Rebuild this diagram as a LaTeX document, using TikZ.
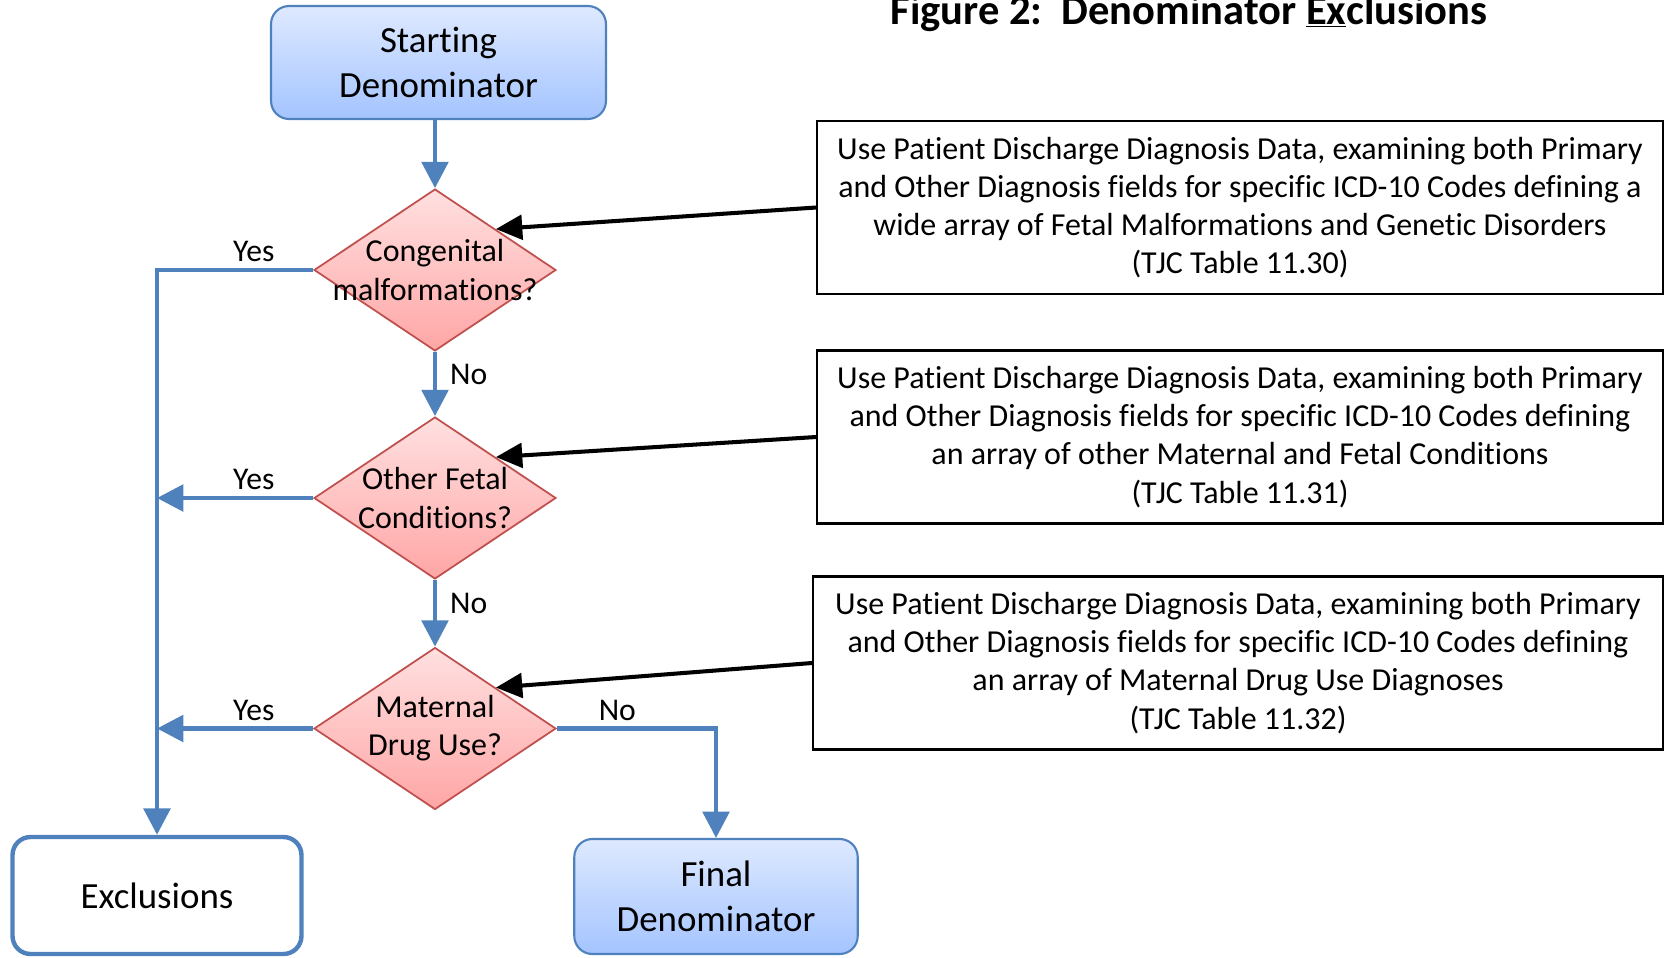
\documentclass[tikz,border=0pt]{standalone}
\usepackage{fontspec}
\setmainfont{Carlito}[Ligatures=NoCommon]
\usepackage{xcolor}
\usepackage{tikz}
\usetikzlibrary{shapes.geometric,arrows.meta,positioning}

\definecolor{flowblue}{RGB}{79,129,189}
\definecolor{flowred}{RGB}{192,80,77}
\definecolor{starttop}{RGB}{222,233,255}
\definecolor{startbot}{RGB}{164,196,255}
\definecolor{diatop}{RGB}{255,224,224}
\definecolor{diabot}{RGB}{255,166,166}

\begin{document}
\begin{tikzpicture}[y=-0.02cm,x=0.02cm,
	flow/.style={draw=flowblue, line width=2.6pt, -{Triangle[length=15pt,width=15pt]}},
	ptr/.style={draw=black, line width=2.3pt, -{Triangle[length=15pt,width=14pt]}},
	ends/.style={rounded corners=0.36cm, align=center, font=\fontsize{21}{25.3}\selectfont},
	dia/.style={diamond, draw=flowred, line width=1pt, inner sep=0pt, top color=diatop, bottom color=diabot, minimum width=4.84cm, minimum height=3.24cm},
	diatext/.style={align=center, font=\fontsize{18.2}{21.7}\selectfont},
	info/.style={draw, line width=1.2pt, align=center, minimum height=3.46cm, font=\fontsize{18.2}{21.7}\selectfont},
	lbl/.style={font=\fontsize{18}{21}\selectfont}]
	\useasboundingbox (0,0) rectangle (1665,957);

	\node[anchor=base, font=\fontsize{24.2}{28}\selectfont\bfseries] (title) at (1189,24) {Figure 2:\ \ Denominator \underline{Ex}clusions};

	\node[ends, draw=flowblue, line width=1.2pt, top color=starttop, bottom color=startbot, minimum width=6.7cm, minimum height=2.26cm] (start) at (438.5,62.5) {Starting\\Denominator};

	\node[dia] (d1) at (435,270) {};
	\node[dia] (d2) at (435,498) {};
	\node[dia] (d3) at (435,728.5) {};
	\node[diatext] (d1t) at (d1) {Congenital\\malformations?};
	\node[diatext] (d2t) at (d2) {Other Fetal\\Conditions?};
	\node[diatext] (d3t) at (d3) {Maternal\\Drug Use?};

	\node[ends, draw=flowblue, line width=2.5pt, fill=white, minimum width=5.78cm, minimum height=2.34cm] (excl) at (157,895.5) {Exclusions};
	\node[ends, draw=flowblue, line width=1.2pt, top color=starttop, bottom color=startbot, minimum width=5.67cm, minimum height=2.3cm] (fin) at (716,896.5) {Final\\Denominator};

	\node[info, minimum width=16.92cm] (box1) at (1240,207.5) {Use Patient Discharge Diagnosis Data, examining both Primary\\and Other Diagnosis fields for specific ICD-10 Codes defining a\\wide array of Fetal Malformations and Genetic Disorders\\(TJC Table 11.30)};
	\node[info, minimum width=16.92cm] (box2) at (1240,437) {Use Patient Discharge Diagnosis Data, examining both Primary\\and Other Diagnosis fields for specific ICD-10 Codes defining\\an array of other Maternal and Fetal Conditions\\(TJC Table 11.31)};
	\node[info, minimum width=17cm] (box3) at (1238,663) {Use Patient Discharge Diagnosis Data, examining both Primary\\and Other Diagnosis fields for specific ICD-10 Codes defining\\an array of Maternal Drug Use Diagnoses\\(TJC Table 11.32)};

	\draw[flow] (start.south -| d1.north) -- (d1.north);
	\draw[flow] (d1.south) -- node[lbl, right, pos=0.35, xshift=4pt] {No} (d2.north);
	\draw[flow] (d2.south) -- node[lbl, right, pos=0.35, xshift=4pt] {No} (d3.north);
	\draw[flow] (d1.west) -| node[lbl, above, pos=0.19] {Yes} (excl.north);
	\draw[flow] (d2.west) -- node[lbl, above, pos=0.38] {Yes} (d2.west -| excl.north);
	\draw[flow] (d3.west) -- node[lbl, above, pos=0.38] {Yes} (d3.west -| excl.north);
	\draw[flow] (d3.east) -| node[lbl, above, pos=0.19] {No} (fin.north);

	\draw[ptr] (box1.west) -- (d1.north east);
	\draw[ptr] (box2.west) -- (d2.north east);
	\draw[ptr] (box3.west) -- (d3.north east);
\end{tikzpicture}
\end{document}
